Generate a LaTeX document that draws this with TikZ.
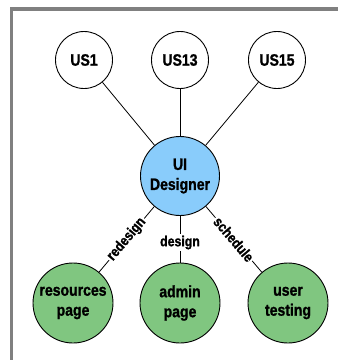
\documentclass[tikz,border=0pt]{standalone}
\usepackage{fontspec}
\setmainfont{Liberation Sans}[FakeStretch=0.85,BoldFeatures={FakeBold=1.2}]
\definecolor{framegray}{RGB}{128,128,128}
\definecolor{uiblue}{RGB}{137,204,251}
\definecolor{taskgreen}{RGB}{128,198,128}
\begin{document}
\begin{tikzpicture}[x=1pt,y=-1pt,
  circ/.style={circle,draw=black,line width=0.9pt,minimum size=#1,inner sep=0pt,align=center,
    font=\fontsize{16.5}{20}\selectfont\bfseries},
  story/.style={circ=57pt,fill=white},
  person/.style={circ=79pt,fill=uiblue},
  task/.style={circ=80pt,fill=taskgreen},
  link/.style={draw=black,line width=0.8pt},
  lbl/.style={fill=white,inner sep=1.5pt,font=\fontsize{14.5}{17}\selectfont\bfseries}]
\useasboundingbox (0,0) rectangle (338,360);
\fill[white] (0,0) rectangle (338,360);
\draw[line width=3.2pt,framegray] (338,9) -- (11.5,9) -- (11.5,360);

\node[story] (us1) at (84,60) {US1};
\node[story] (us13) at (180,60) {US13};
\node[story] (us15) at (277,60) {US15};
\node[person] (ui) at (180,176) {UI\\Designer};
\node[task] (res) at (73,303) {resources\\page};
\node[task] (adm) at (180,303) {admin\\page};
\node[task] (usr) at (288,303) {user\\testing};

\path[link] (us1) -- (ui);
\path[link] (us13) -- (ui);
\path[link] (us15) -- (ui);
\path[link] (ui) -- node[lbl,sloped]{redesign} (res);
\path[link] (ui) -- node[lbl,pos=0.57]{design} (adm);
\path[link] (ui) -- node[lbl,sloped]{schedule} (usr);
\end{tikzpicture}
\end{document}
